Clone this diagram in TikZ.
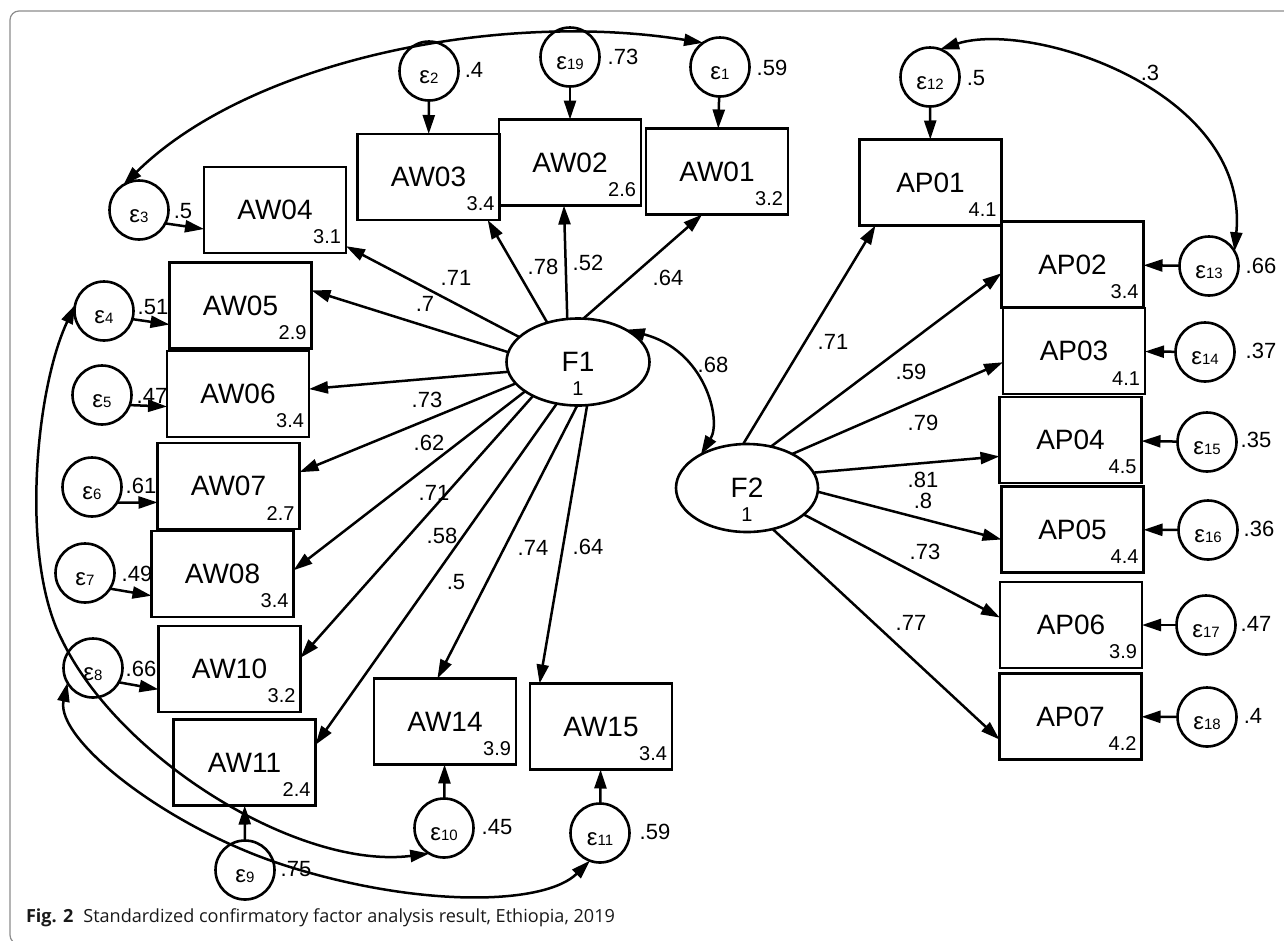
\documentclass[tikz,border=0pt]{standalone}
\usepackage{fontspec}
\setmainfont{Liberation Sans}
\newfontfamily\capfont{Open Sans}
\usetikzlibrary{arrows.meta,shapes.geometric}

% epsilon label of an error term, lowered a little inside its circle
\newcommand\errlab[1]{\raisebox{0pt}[\dimexpr\height+13pt\relax][\depth]{{\fontsize{24}{24}\selectfont ε}{\fontsize{15}{15}\selectfont #1}}}
% observed variable: box with its name and its mean in the lower right corner
\newcommand\obsnode[4]{\node[obs] (#1) at (#2,#3) {#1};
  \node[val] (#1m) at (#1.south east) {#4};}

\begin{document}
\begin{tikzpicture}[x=1pt,y=-1pt,
  every node/.style={inner sep=0pt,outer sep=0pt},
  obs/.style={draw,line width=2.8pt,minimum width=142pt,minimum height=86pt,
    font=\fontsize{28}{28}\selectfont},
  lat/.style={draw,ellipse,line width=2.6pt,minimum width=143pt,minimum height=87pt,
    font=\fontsize{28}{28}\selectfont},
  err/.style={draw,circle,line width=2.6pt,minimum size=59pt},
  val/.style={font=\fontsize{20}{20}\selectfont,anchor=south east,xshift=-5pt,yshift=9pt},
  latvar/.style={font=\fontsize{20}{20}\selectfont,yshift=-27pt},
  coef/.style={font=\fontsize{22}{22}\selectfont},
  pathline/.style={line width=2.5pt,-{Triangle[length=19pt,width=12pt]}},
  cov/.style={line width=2.5pt,{Triangle[length=19pt,width=12pt]}-{Triangle[length=19pt,width=12pt]}},
  frame/.style={draw=black!45,line width=1.2pt,rounded corners=9pt},
  caption/.style={anchor=west,text=black!90},
]
\useasboundingbox (0,0) rectangle (1284,940);
\clip (0,0) rectangle (1284,940);
\draw[frame] (1300,11) -- (10,11) -- (10,944) -- (1300,944);

% ---- observed variables of F1
\obsnode{AW03}{428.5}{177}{3.4}
\obsnode{AW02}{570}{162.5}{2.6}
\obsnode{AW01}{717}{171.5}{3.2}
\obsnode{AW04}{275}{210}{3.1}
\obsnode{AW05}{240.5}{305.5}{2.9}
\obsnode{AW06}{238}{394}{3.4}
\obsnode{AW07}{228.5}{486}{2.7}
\obsnode{AW08}{222.5}{574}{3.4}
\obsnode{AW10}{229.5}{669}{3.2}
\obsnode{AW11}{244.5}{762.5}{2.4}
\obsnode{AW14}{445}{721.5}{3.9}
\obsnode{AW15}{601}{726.5}{3.4}
% ---- observed variables of F2
\obsnode{AP01}{930.5}{182.5}{4.1}
\obsnode{AP02}{1072.5}{264.5}{3.4}
\obsnode{AP03}{1074}{351}{4.1}
\obsnode{AP04}{1070.5}{440}{4.5}
\obsnode{AP05}{1072.5}{529.5}{4.4}
\obsnode{AP06}{1071}{625}{3.9}
\obsnode{AP07}{1070.5}{716.5}{4.2}

% ---- latent factors
\node[lat] (F1) at (578,362) {F1};
\node[latvar] (F1v) at (F1.center) {1};
\node[lat,minimum width=142pt,minimum height=88pt] (F2) at (747,488) {F2};
\node[latvar] (F2v) at (F2.center) {1};

% ---- error terms
\node[err] (e1)  at (720,67)  {\errlab{1}};
\node[err] (e2)  at (429,71)  {\errlab{2}};
\node[err] (e19) at (570,57)  {\errlab{19}};
\node[err] (e3)  at (139,210) {\errlab{3}};
\node[err] (e4)  at (104,311) {\errlab{4}};
\node[err] (e5)  at (102,395) {\errlab{5}};
\node[err] (e6)  at (92,487)  {\errlab{6}};
\node[err] (e7)  at (85,573)  {\errlab{7}};
\node[err] (e8)  at (93,668)  {\errlab{8}};
\node[err] (e9)  at (245,870) {\errlab{9}};
\node[err] (e10) at (444,828) {\errlab{10}};
\node[err] (e11) at (600,833) {\errlab{11}};
\node[err] (e12) at (930,77)  {\errlab{12}};
\node[err] (e13) at (1209,266) {\errlab{13}};
\node[err] (e14) at (1205,352) {\errlab{14}};
\node[err] (e15) at (1207,442) {\errlab{15}};
\node[err] (e16) at (1208,530) {\errlab{16}};
\node[err] (e17) at (1206,625) {\errlab{17}};
\node[err] (e18) at (1207,717) {\errlab{18}};

% ---- error variances
\node[coef] (v1)  at (772,68)  {.59};
\node[coef] (v2)  at (474,70)  {.4};
\node[coef] (v19) at (623,57)  {.73};
\node[coef] (v3)  at (183,211) {.5};
\node[coef] (v4)  at (153,307) {.51};
\node[coef] (v5)  at (152,396) {.47};
\node[coef] (v6)  at (141,486) {.61};
\node[coef] (v7)  at (137,574) {.49};
\node[coef] (v8)  at (141,669) {.66};
\node[coef] (v9)  at (296,869) {.75};
\node[coef] (v10) at (497,827) {.45};
\node[coef] (v11) at (655,832) {.59};
\node[coef] (v12) at (976,78)  {.5};
\node[coef] (v13) at (1261,266) {.66};
\node[coef] (v14) at (1261,351) {.37};
\node[coef] (v15) at (1256,440) {.35};
\node[coef] (v16) at (1259,529) {.36};
\node[coef] (v17) at (1256,624) {.47};
\node[coef] (v18) at (1253,716) {.4};

% ---- loadings
\node[coef] (l4)  at (456,278) {.71};
\node[coef] (l5)  at (425,304) {.7};
\node[coef] (l3)  at (543,267) {.78};
\node[coef] (l2)  at (588,263) {.52};
\node[coef] (l1)  at (668,278) {.64};
\node[coef] (l6)  at (427,400) {.73};
\node[coef] (l7)  at (429,443) {.62};
\node[coef] (l8)  at (434,493) {.71};
\node[coef] (l10) at (442,536) {.58};
\node[coef] (l11) at (456,582) {.5};
\node[coef] (l14) at (533,548) {.74};
\node[coef] (l15) at (588,547) {.64};
\node[coef] (lp1) at (833,342) {.71};
\node[coef] (lp2) at (911,372) {.59};
\node[coef] (lp3) at (923,423) {.79};
\node[coef] (lp4) at (923,480) {.81};
\node[coef] (lp5) at (923,501) {.8};
\node[coef] (lp6) at (925,552) {.73};
\node[coef] (lp7) at (911,623) {.77};
\node[coef] (c12) at (713,365) {.68};
\node[coef] (c1213) at (1150,73) {.3};

% ---- paths from F1
\draw[pathline] (F1.128) -- (AW03.-36);
\draw[pathline] (F1.104) -- (AW02.262);
\draw[pathline] (F1.83)  -- (AW01.251);
\draw[pathline] (F1.157) -- (AW04.-27);
\draw[pathline] (F1.172) -- (AW05.12);
\draw[pathline] (F1.188) -- (AW06.4);
\draw[pathline] (F1.199) -- (AW07.11);
\draw[pathline] (F1.209) -- (AW08.3);
\draw[pathline] (F1.217) -- (AW10.9.5);
\draw[pathline] (F1.243) -- (AW11.14.5);
\draw[pathline] (F1.269) -- (AW14.100);
\draw[pathline] (F1.282) -- (AW15.145);
% ---- paths from F2
\draw[pathline] (F2.95)  -- (AP01.218);
\draw[pathline] (F2.60)  -- (AP02.187);
\draw[pathline] (F2.37)  -- (AP03.189);
\draw[pathline] (F2.13)  -- (AP04.193);
\draw[pathline] (F2.-3)  -- (AP05.188);
\draw[pathline] (F2.-25) -- (AP06.174);
\draw[pathline] (F2.-58) -- (AP07.198);

% ---- error paths
\draw[pathline] (e1) -- (AW01);
\draw[pathline] (e2) -- (AW03);
\draw[pathline] (e19) -- (AW02);
\draw[pathline] (e3.-27) -- (AW04.195);
\draw[pathline] (e4.-16) -- (AW05.195);
\draw[pathline] (e5.-20) -- (AW06.190);
\draw[pathline] (e6.-32) -- (AW07.193);
\draw[pathline] (e7.-32) -- (AW08.197);
\draw[pathline] (e8.-29) -- (AW10.196);
\draw[pathline] (e9) -- (AW11);
\draw[pathline] (e10) -- (AW14);
\draw[pathline] (e11) -- (AW15);
\draw[pathline] (e12) -- (AP01);
\draw[pathline] (e13) -- (AP02);
\draw[pathline] (e14) -- (AP03);
\draw[pathline] (e15) -- (AP04);
\draw[pathline] (e16) -- (AP05);
\draw[pathline] (e17) -- (AP06);
\draw[pathline] (e18) -- (AP07);

% ---- covariances
\coordinate (k1) at (62,640);
\coordinate (k2) at (290,867);
\draw[cov] (e3.122) .. controls (250,60) and (500,10) .. (e1.125);
\draw[cov] (e12.70) .. controls (1030,20) and (1250,90) .. (e13.30);
\draw[cov] (F1.34) .. controls (705,350) and (722,420) .. (F2.144);
\draw[cov] (e4.168) .. controls (35,390) and (20,560) .. (k1)
  .. controls (120,760) and (300,870) .. (e10.240);
\draw[cov] (e8.210) .. controls (55,740) and (170,830) .. (k2)
  .. controls (422,908) and (545,905) .. (e11.250);

% ---- caption
\node[caption] (cap) at (26,918) {\resizebox{589pt}{!}{\capfont\fontsize{17}{17}\selectfont\textbf{Fig. 2}\hspace{0.55em}Standardized confirmatory factor analysis result, Ethiopia, 2019}};
\end{tikzpicture}
\end{document}
